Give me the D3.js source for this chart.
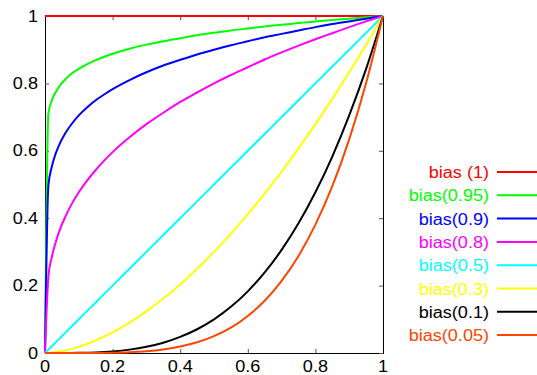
<!DOCTYPE html>
<html>
<head>
<meta charset="utf-8">
<script src="https://cdn.jsdelivr.net/npm/d3@7"></script>
<style>
  body { margin: 0; background: #fff; }
  svg { display: block; }
  text { font-family: "Liberation Sans", Arial, sans-serif; }
</style>
</head>
<body>
<svg id="chart" width="537" height="375"></svg>
<script>
// sample positions
const xHigh = [0, 0.01, 0.02, 0.03, 0.04, 0.06, 0.08, 0.1, 0.125, 0.15, 0.175, 0.2, 0.25, 0.3, 0.35, 0.4, 0.45, 0.5, 0.55, 0.6, 0.65, 0.7, 0.75, 0.8, 0.85, 0.9, 0.95, 1];
const xLow = [0, 0.05, 0.1, 0.15, 0.2, 0.25, 0.3, 0.35, 0.4, 0.45, 0.5, 0.55, 0.6, 0.65, 0.7, 0.75, 0.8, 0.85, 0.9, 0.95, 1];

// curves that rise fast (on xHigh)
const bias1   = [1, 1, 1, 1, 1, 1, 1, 1, 1, 1, 1, 1, 1, 1, 1, 1, 1, 1, 1, 1, 1, 1, 1, 1, 1, 1, 1, 1];
const bias095 = [0, 0.711, 0.749, 0.771, 0.788, 0.812, 0.830, 0.843, 0.857, 0.869, 0.879, 0.888, 0.903, 0.915, 0.925, 0.934, 0.943, 0.950, 0.957, 0.963, 0.969, 0.974, 0.979, 0.984, 0.988, 0.992, 0.996, 1];
const bias09  = [0, 0.497, 0.552, 0.587, 0.613, 0.652, 0.681, 0.705, 0.729, 0.750, 0.767, 0.783, 0.810, 0.833, 0.853, 0.870, 0.886, 0.900, 0.913, 0.925, 0.937, 0.947, 0.957, 0.967, 0.976, 0.984, 0.992, 1];
const bias08  = [0, 0.227, 0.284, 0.323, 0.355, 0.404, 0.444, 0.477, 0.512, 0.543, 0.571, 0.596, 0.640, 0.679, 0.713, 0.745, 0.773, 0.800, 0.825, 0.848, 0.871, 0.892, 0.912, 0.931, 0.949, 0.967, 0.984, 1];

// curves that rise slowly (on xLow)
const bias05  = [0, 0.05, 0.1, 0.15, 0.2, 0.25, 0.3, 0.35, 0.4, 0.45, 0.5, 0.55, 0.6, 0.65, 0.7, 0.75, 0.8, 0.85, 0.9, 0.95, 1];
const bias03  = [0, 0.0055, 0.0183, 0.0371, 0.0611, 0.0900, 0.1235, 0.1615, 0.2036, 0.2498, 0.300, 0.354, 0.412, 0.473, 0.538, 0.607, 0.679, 0.754, 0.833, 0.915, 1];
const bias01  = [0, 0, 0.0005, 0.0018, 0.0048, 0.0100, 0.0183, 0.0306, 0.0477, 0.0705, 0.100, 0.137, 0.183, 0.239, 0.306, 0.385, 0.477, 0.583, 0.705, 0.843, 1];
const bias005 = [0, 0, 0, 0.0003, 0.0010, 0.0025, 0.0055, 0.0107, 0.0191, 0.0317, 0.050, 0.075, 0.110, 0.155, 0.214, 0.288, 0.381, 0.495, 0.634, 0.801, 1];

const seriesNames = ["bias (1)", "bias(0.95)", "bias(0.9)", "bias(0.8)", "bias(0.5)", "bias(0.3)", "bias(0.1)", "bias(0.05)"];
const seriesColors = ["#ff0000", "#00ff00", "#0000ff", "#ff00ff", "#00ffff", "#ffff00", "#000000", "#ff4500"];
const seriesX = [xHigh, xHigh, xHigh, xHigh, xLow, xLow, xLow, xLow];
const seriesY = [bias1, bias095, bias09, bias08, bias05, bias03, bias01, bias005];

const tickValues = [0, 0.2, 0.4, 0.6, 0.8, 1];
const tickLabels = ["0", "0.2", "0.4", "0.6", "0.8", "1"];

const svg = d3.select("#chart");
const margin = { top: 16, right: 154, bottom: 22, left: 45 },
    width = +svg.attr("width") - margin.left - margin.right,
    height = +svg.attr("height") - margin.top - margin.bottom,
    g = svg.append("g").attr("transform", "translate(" + margin.left + "," + margin.top + ")");

const x = d3.scaleLinear().domain([0, 1]).range([0, width]);
const y = d3.scaleLinear().domain([0, 1]).range([height, 0]);

const stretch = 1.13; // reference glyphs are a bit wider than Arial
function label(parent, px, py, txt, anchor, color) {
    parent.append("g")
        .attr("transform", "translate(" + px + "," + py + ") scale(" + stretch + ",1)")
        .append("text")
        .attr("text-anchor", anchor)
        .attr("font-size", 16)
        .attr("fill", color)
        .text(txt);
}

// frame + inward ticks on all four sides
g.append("g").attr("transform", "translate(0," + height + ")")
    .call(d3.axisBottom(x).tickValues(tickValues).tickSize(-4).tickFormat(""));
g.append("g")
    .call(d3.axisTop(x).tickValues(tickValues).tickSize(-4).tickFormat(""));
g.append("g")
    .call(d3.axisLeft(y).tickValues(tickValues).tickSize(-4).tickFormat(""));
g.append("g").attr("transform", "translate(" + width + ",0)")
    .call(d3.axisRight(y).tickValues(tickValues).tickSize(-4).tickFormat(""));
g.selectAll(".domain").attr("stroke", "#000").attr("stroke-width", 1);
g.selectAll(".tick line").attr("stroke", "#555");

tickValues.forEach((v, i) => {
    label(g, x(v), height + 19, tickLabels[i], "middle", "#000");
    label(g, -7, y(v) + 5.5, tickLabels[i], "end", "#000");
});

// curves
const line = d3.line()
    .x(d => x(d[0]))
    .y(d => y(d[1]))
    .curve(d3.curveMonotoneX);

seriesY.forEach((ys, i) => {
    const pts = ys.map((v, j) => [seriesX[i][j], v]);
    g.append("path")
        .datum(pts)
        .attr("fill", "none")
        .attr("stroke", seriesColors[i])
        .attr("stroke-width", 2)
        .attr("d", line);
});

// legend
const legendTop = 172, legendStep = 23.3;
seriesNames.forEach((name, i) => {
    const ly = legendTop + i * legendStep;
    label(svg, 489, ly + 6, name, "end", seriesColors[i]);
    svg.append("line")
        .attr("x1", 497).attr("x2", 537)
        .attr("y1", ly).attr("y2", ly)
        .attr("stroke", seriesColors[i])
        .attr("stroke-width", 2);
});
</script>
</body>
</html>
